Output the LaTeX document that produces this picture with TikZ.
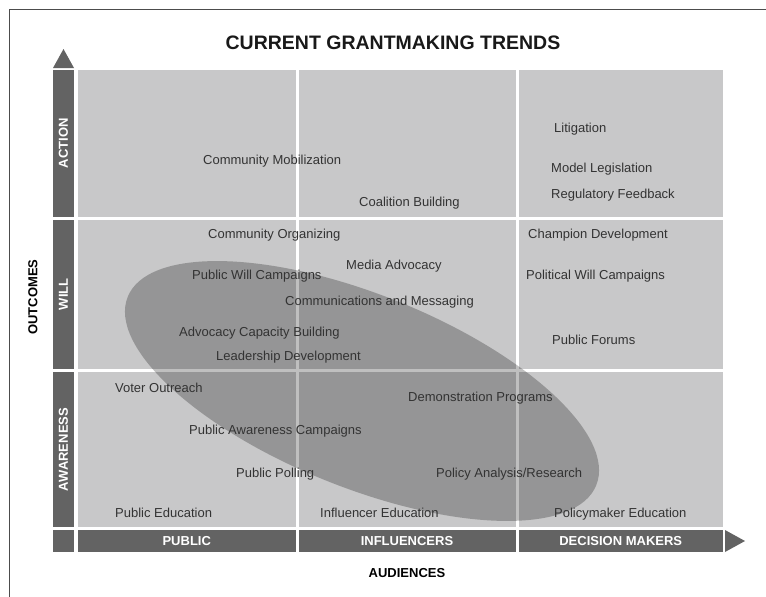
\documentclass[tikz,border=0pt]{standalone}
\usepackage{fontspec}
\setmainfont{Liberation Sans}
\definecolor{cellgray}{HTML}{C8C8C9}
\definecolor{bargray}{HTML}{636363}
\definecolor{textgray}{HTML}{333333}

\begin{document}
\begin{tikzpicture}[x=1pt,y=-1pt,
		item/.style={anchor=base west,inner sep=0pt,text=textgray,font=\fontsize{13}{15}\selectfont},
		barlabel/.style={inner sep=0pt,text=white,font=\bfseries\fontsize{13}{15}\selectfont},
		axislabel/.style={inner sep=0pt,text=black,font=\bfseries\fontsize{13}{15}\selectfont}]
		\useasboundingbox (0,0) rectangle (766,597);
		\fill[white] (0,0) rectangle (766,597);
		\draw[color=black!70,line width=1pt] (9,597) -- (9,9) -- (766,9);
		\node[inner sep=0pt,text=black!90,font=\bfseries\fontsize{19.5}{22}\selectfont] (title) at (393,42.5) {CURRENT GRANTMAKING TRENDS};
		\foreach \xa/\xb in {78/295.5,298.5/515.5,518.5/723}
			\foreach \ya/\yb in {70/216.5,219.5/369,372/527}
				\fill[cellgray] (\xa,\ya) rectangle (\xb,\yb);
		\foreach \ya/\yb/\lab [count=\i] in {70/216.5/ACTION,219.5/369/WILL,372/527/AWARENESS} {
			\fill[bargray] (53,\ya) rectangle (74,\yb);
			\node[barlabel,rotate=90] (row\i) at (63.5,{(\ya+\yb)/2}) {\lab};
		}
		\foreach \xa/\xb/\lab [count=\i] in {78/295.5/PUBLIC,298.5/515.5/INFLUENCERS,518.5/723/DECISION MAKERS} {
			\fill[bargray] (\xa,530) rectangle (\xb,552);
			\node[barlabel] (col\i) at ({(\xa+\xb)/2},541) {\lab};
		}
		\fill[bargray] (53,530) rectangle (74,552);
		\fill[bargray] (53,68) -- (63.5,49) -- (74,68) -- cycle;
		\fill[bargray] (725,530) -- (745,541) -- (725,552) -- cycle;
		\fill[black,opacity=0.25,rotate around={-21.9:(362,391)}] (362,391) ellipse [x radius=252.5,y radius=96.5];
		\foreach \x/\y/\txt [count=\i] in {203/164/Community Mobilization, 359/206/Coalition Building,
				554/132/Litigation, 551/172/Model Legislation, 551/198/Regulatory Feedback,
				208/238/Community Organizing, 346/269/Media Advocacy, 192/279/Public Will Campaigns,
				285/305/Communications and Messaging, 179/336/Advocacy Capacity Building,
				216/360/Leadership Development, 528/238/Champion Development,
				526/279/Political Will Campaigns, 552/344/Public Forums, 115/392/Voter Outreach,
				408/401/Demonstration Programs, 189/434/Public Awareness Campaigns,
				236/477/Public Polling, 436/477/{Policy Analysis/Research}, 115/517/Public Education,
				320/517/Influencer Education, 554/517/Policymaker Education}
			\node[item] (item\i) at (\x,\y) {\txt};
		\node[axislabel,rotate=90] (outcomes) at (33,297) {OUTCOMES};
		\node[axislabel] (audiences) at (407,573) {AUDIENCES};
	\end{tikzpicture}
\end{document}
